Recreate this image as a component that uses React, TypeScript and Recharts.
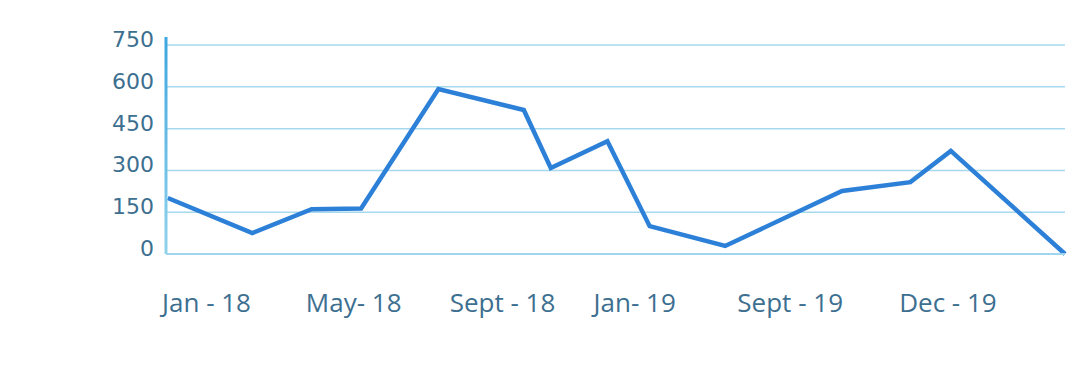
import { CartesianGrid, Line, LineChart, XAxis, YAxis } from 'recharts';

// position along the time axis (0-100) and value of each point
const positions = [0.2, 9.6, 16.2, 21.7, 30.3, 39.8, 42.8, 49.1, 53.8, 62.2, 75.2, 82.8, 87.3, 100];
const values = [201, 75, 161, 163, 592, 517, 309, 405, 100, 29, 226, 258, 370, 0];

const xTicks = [0, 16, 32, 48, 64, 82];
const xLabels = ['Jan - 18', 'May- 18', 'Sept - 18', 'Jan- 19', 'Sept - 19', 'Dec - 19'];
const yTicks = [0, 150, 300, 450, 600, 750];
const gridValues = [150, 300, 450, 600, 750];

const data = positions.map((t, i) => ({ t, value: values[i] }));

const TEXT_COLOR = '#3d6f90';

function XTick({ x, y, payload }: any) {
  const idx = xTicks.indexOf(payload.value);
  return (
    <text
      x={x - 4}
      y={y + 58}
      textAnchor="start"
      fill={TEXT_COLOR}
      fontSize={26}
      fontFamily='"Open Sans", sans-serif'
    >
      {xLabels[idx]}
    </text>
  );
}

function YTick({ x, y, payload }: any) {
  return (
    <text
      x={x - 12}
      y={y + 2}
      textAnchor="end"
      fill={TEXT_COLOR}
      fontSize={22}
      fontFamily='"DejaVu Sans", sans-serif'
    >
      {payload.value}
    </text>
  );
}

export default function App() {
  return (
    <div style={{ position: 'absolute', left: 0, top: 0, background: '#fff' }}>
      <LineChart
        width={1080}
        height={374}
        data={data}
        margin={{ top: 37, right: 15, bottom: 0, left: 0 }}
      >
        <defs>
          <linearGradient id="axisGrad" gradientUnits="userSpaceOnUse" x1="0" y1="37" x2="0" y2="254">
            <stop offset="0%" stopColor="#3ea6df" />
            <stop offset="100%" stopColor="#92d3ec" />
          </linearGradient>
        </defs>
        <CartesianGrid
          vertical={false}
          horizontalValues={gridValues}
          stroke="#a6d8ee"
          strokeWidth={1.5}
        />
        <XAxis
          dataKey="t"
          type="number"
          domain={[0, 100]}
          ticks={xTicks}
          interval={0}
          height={120}
          tickSize={0}
          tickMargin={0}
          tickLine={false}
          axisLine={{ stroke: '#9fd5ee', strokeWidth: 2 }}
          tick={<XTick />}
        />
        <YAxis
          type="number"
          domain={[0, 779]}
          ticks={yTicks}
          interval={0}
          width={166}
          tickSize={0}
          tickMargin={0}
          tickLine={false}
          axisLine={{ stroke: 'url(#axisGrad)', strokeWidth: 3 }}
          tick={<YTick />}
        />
        <Line
          type="linear"
          dataKey="value"
          stroke="#2d80d7"
          strokeWidth={4.5}
          dot={false}
          isAnimationActive={false}
        />
      </LineChart>
    </div>
  );
}
